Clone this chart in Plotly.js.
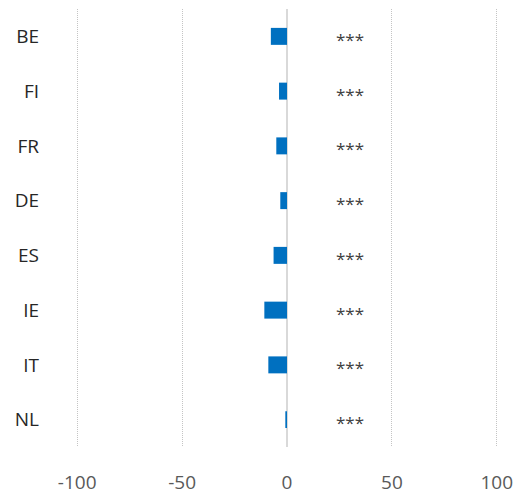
<!DOCTYPE html>
<html>
<head>
<meta charset="utf-8">
<script src="https://cdn.plot.ly/plotly-3.0.1.min.js"></script>
<style>
  html, body { margin: 0; padding: 0; background: #ffffff; }
  #chart { width: 519px; height: 498px; }
</style>
</head>
<body>
<div id="chart"></div>
<script>
// Country codes, top to bottom
const countries = ['BE', 'FI', 'FR', 'DE', 'ES', 'IE', 'IT', 'NL'];
// Estimated effect per country
const effects = [-7.7, -3.8, -5.1, -3.2, -6.4, -10.8, -8.9, -0.8];
// Significance markers shown beside each bar
const significance = ['***', '***', '***', '***', '***', '***', '***', '***'];
// Horizontal position of the significance markers
const markerX = 30;
// Value axis ticks
const xTicks = [-100, -50, 0, 50, 100];

const FONT = '"Open Sans", Lato, sans-serif';

const barTrace = {
  type: 'bar',
  orientation: 'h',
  y: countries,
  x: effects,
  marker: { color: '#0070C0' },
  width: 0.31,
  hoverinfo: 'x+y'
};

const annotations = countries.map((c, i) => ({
  x: markerX,
  y: c,
  xref: 'x',
  yref: 'y',
  text: significance[i],
  showarrow: false,
  yshift: -3,
  font: { family: FONT, size: 17, color: '#404040' }
}));

const layout = {
  width: 519,
  height: 498,
  margin: { l: 73, r: 18, t: 9, b: 51 },
  paper_bgcolor: '#ffffff',
  plot_bgcolor: '#ffffff',
  showlegend: false,
  font: { family: FONT },
  xaxis: {
    range: [-102, 102],
    tickvals: xTicks,
    ticktext: xTicks.map(String),
    showgrid: true,
    gridcolor: '#c4c4c4',
    griddash: '1px,1px',
    gridwidth: 1,
    zeroline: true,
    zerolinecolor: '#d9d9d9',
    zerolinewidth: 1.2,
    showline: false,
    ticks: '',
    ticklabelstandoff: 22,
    tickfont: { size: 19, color: '#595959' },
    fixedrange: true
  },
  yaxis: {
    type: 'category',
    categoryorder: 'array',
    categoryarray: countries,
    autorange: 'reversed',
    showgrid: false,
    zeroline: false,
    showline: false,
    ticks: '',
    ticklabelstandoff: 33,
    tickfont: { size: 19, color: '#262626' },
    fixedrange: true
  },
  annotations: annotations
};

Plotly.newPlot('chart', [barTrace], layout, { displayModeBar: false, staticPlot: true });
</script>
</body>
</html>
